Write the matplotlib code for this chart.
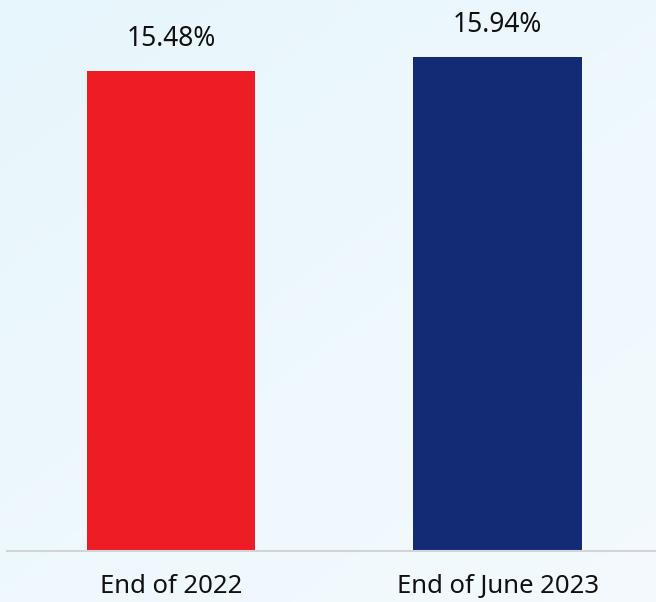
import numpy as np
import matplotlib
matplotlib.use("Agg")
import matplotlib.pyplot as plt

categories = ["End of 2022", "End of June 2023"]
values = [15.48, 15.94]
value_labels = ["15.48%", "15.94%"]
bar_colors = ["#ee1c25", "#132a74"]

plt.rcParams["font.family"] = ["Noto Sans", "DejaVu Sans"]

fig = plt.figure(figsize=(6.56, 6.02), dpi=100)

# soft light-blue background wash
bg = fig.add_axes([0, 0, 1, 1], zorder=0)
yy, xx = np.mgrid[0:1:300j, 0:1:300j]
t = np.clip(0.55 * yy + 0.45 * xx, 0, 1)
top = np.array([231, 246, 252]) / 255
bot = np.array([244, 250, 254]) / 255
img = top[None, None, :] * (1 - t[..., None]) + bot[None, None, :] * t[..., None]
bg.imshow(img, aspect="auto", extent=[0, 1, 0, 1], origin="upper")
bg.axis("off")

ax = fig.add_axes([7 / 656, 51 / 602, 649 / 656, 551 / 602], zorder=1)
ax.patch.set_alpha(0)
x = np.arange(len(categories))
bars = ax.bar(x, values, width=0.515, color=bar_colors)
for b, lab in zip(bars, value_labels):
    ax.annotate(lab, (b.get_x() + b.get_width() / 2, b.get_height()),
                xytext=(0, 25), textcoords="offset pixels",
                ha="center", va="baseline", fontsize=19, color="#111111")

ax.set_xlim(-0.502, 1.485)
ax.set_ylim(0, 17.77)
ax.set_xticks(x)
ax.set_xticklabels(categories, fontsize=18.5, color="#111111", va="baseline")
ax.tick_params(axis="x", length=0, pad=30)
ax.set_yticks([])
for s in ["top", "right", "left"]:
    ax.spines[s].set_visible(False)
ax.spines["bottom"].set_color("#d2d4d7")
ax.spines["bottom"].set_linewidth(1.5)

fig.savefig("out.png", dpi=100)
